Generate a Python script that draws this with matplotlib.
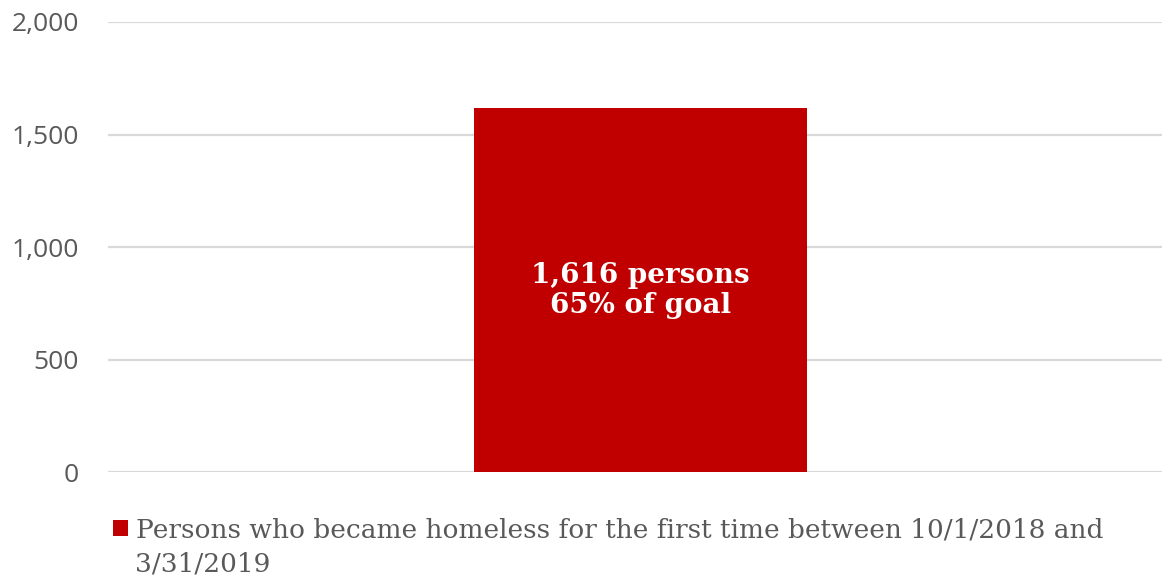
from matplotlib import pyplot as plt
from matplotlib import ticker

#%%
categories = ["Persons who became homeless for the first time between 10/1/2018 and\n3/31/2019"]
values = [1616]
bar_label = "1,616 persons\n65% of goal"
yticks = [0, 500, 1000, 1500, 2000]

red = "#C00000"
grey = "#595959"

fig = plt.figure(figsize=(11.62, 5.78), dpi=100)
ax = fig.add_axes([0.093, 1 - 472 / 578, 0.907, 450 / 578])

bars = ax.bar([0], values, width=0.316, color=red, zorder=3)
ax.set_xlim(-0.505, 0.495)
ax.set_ylim(0, 2000)
ax.set_yticks(yticks)
ax.yaxis.set_major_formatter(ticker.FuncFormatter(lambda v, p: f"{int(v):,}"))
ax.set_xticks([])
ax.grid(axis="y", color="#d9d9d9", linewidth=1.6, zorder=0)
for s in ax.spines.values():
    s.set_visible(False)
ax.tick_params(axis="y", length=0, pad=21, labelsize=19, labelcolor=grey)
for t in ax.get_yticklabels():
    t.set_fontfamily("Open Sans")

ax.text(0.0, values[0] * 0.5, bar_label, ha="center", va="center",
        color="white", fontsize=20, fontweight="bold",
        fontfamily="DejaVu Serif", linespacing=1.15, zorder=4)

# legend: square handle on first line, wrapped second line as plain text
lines = categories[0].split("\n")
fig.legend(handles=[bars], labels=[lines[0]], loc="center left",
           bbox_to_anchor=(113 / 1162, 1 - 530 / 578), frameon=False,
           handlelength=0.57, handleheight=0.57, handletextpad=0.3,
           prop={"family": "DejaVu Serif", "size": 19}, labelcolor=grey,
           borderaxespad=0, borderpad=0)
fig.text(135 / 1162, 1 - 564 / 578, lines[1], va="center", ha="left",
         color=grey, fontsize=19, fontfamily="DejaVu Serif")

fig.savefig("out.png", dpi=100)
